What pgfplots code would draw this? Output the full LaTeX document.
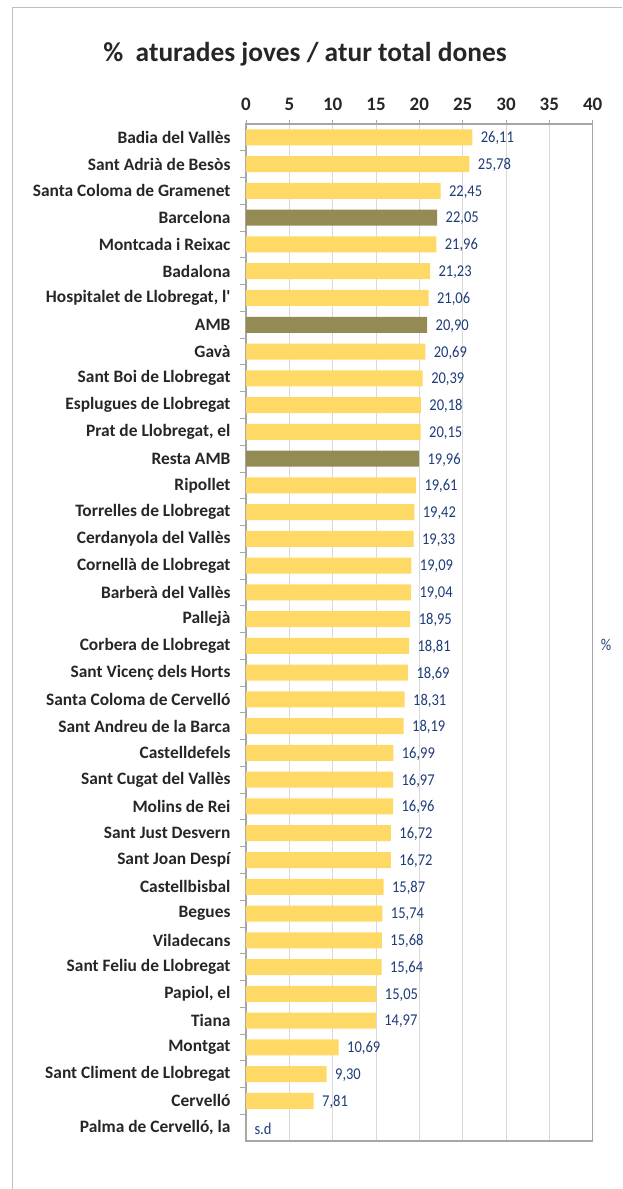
\documentclass[border=0pt]{standalone}
\usepackage{pgfplots}
\pgfplotsset{compat=1.18}
\usepackage{pgfplotstable}
\usepackage{fontspec}
\setmainfont{Carlito}
\newfontfamily\valfont[FakeStretch=0.88]{Carlito}
\definecolor{barY}{HTML}{FFD966}
\definecolor{barO}{HTML}{948A54}
\definecolor{valB}{HTML}{1F3C78}
\definecolor{txt}{HTML}{262626}
\definecolor{gridc}{HTML}{D9D9D9}
\definecolor{axc}{HTML}{A6A6A6}
\definecolor{framec}{HTML}{BFBFBF}

\pgfplotstableread{
i v lab
0 26.11 26,11
1 25.78 25,78
2 22.45 22,45
4 21.96 21,96
5 21.23 21,23
6 21.06 21,06
8 20.69 20,69
9 20.39 20,39
10 20.18 20,18
11 20.15 20,15
13 19.61 19,61
14 19.42 19,42
15 19.33 19,33
16 19.09 19,09
17 19.04 19,04
18 18.95 18,95
19 18.81 18,81
20 18.69 18,69
21 18.31 18,31
22 18.19 18,19
23 16.99 16,99
24 16.97 16,97
25 16.96 16,96
26 16.72 16,72
27 16.72 16,72
28 15.87 15,87
29 15.74 15,74
30 15.68 15,68
31 15.64 15,64
32 15.05 15,05
33 14.97 14,97
34 10.69 10,69
35 9.30 9,30
36 7.81 7,81
}\yellowtab

\pgfplotstableread{
i v lab
3 22.05 22,05
7 20.90 20,90
12 19.96 19,96
}\olivetab

\pgfplotstableread{
i v lab
37 0 s.d
}\sdtab

\begin{document}
\begin{tikzpicture}
\useasboundingbox (0,0) rectangle (622pt,1189pt);
\draw[framec, line width=1pt] (12pt,0) -- (12pt,1181pt) -- (622pt,1181pt);
\node[txt, font=\fontsize{27.4}{30}\selectfont\bfseries] at (305pt,1135pt) {\%\ \ aturades joves / atur total dones};
\node[valB, font=\valfont\fontsize{16.5}{19}\selectfont] at (606pt,544pt) {\%};
\begin{axis}[
  at={(246pt,48pt)}, anchor=south west,
  scale only axis, width=346.7pt, height=1017pt,
  xmin=0, xmax=40, ymin=-0.5, ymax=37.5,
  y dir=reverse,
  axis line style={draw=axc, line width=1.1pt},
  xtick={0,5,...,40},
  xtick pos=right, xticklabel pos=right,
  xmajorgrids, grid style={draw=gridc, line width=0.8pt},
  tick align=outside, major tick length=4pt,
  x tick style={draw=axc, line width=0.8pt},
  xticklabel style={font=\fontsize{19}{21}\selectfont\bfseries, text=txt, yshift=6pt},
  /pgf/number format/assume math mode=true,
  ytick={0,...,37},
  y tick style={draw=none},
  ytick pos=left,
  minor ytick={0.5,1.5,...,36.5},
  minor tick length=6pt,
  minor y tick style={draw=axc, line width=0.8pt},
  yticklabel style={font=\fontsize{17.4}{20}\selectfont\bfseries, text=txt, xshift=-8pt},
  yticklabels={{Badia del Vallès},{Sant Adrià de Besòs},{Santa Coloma de Gramenet},{Barcelona},{Montcada i Reixac},{Badalona},{Hospitalet de Llobregat, l\textquotesingle},{AMB},{Gavà},{Sant Boi de Llobregat},{Esplugues de Llobregat},{Prat de Llobregat, el},{Resta AMB},{Ripollet},{Torrelles de Llobregat},{Cerdanyola del Vallès},{Cornellà de Llobregat},{Barberà del Vallès},{Pallejà},{Corbera de Llobregat},{Sant Vicenç dels Horts},{Santa Coloma de Cervelló},{Sant Andreu de la Barca},{Castelldefels},{Sant Cugat del Vallès},{Molins de Rei},{Sant Just Desvern},{Sant Joan Despí},{Castellbisbal},{Begues},{Viladecans},{Sant Feliu de Llobregat},{Papiol, el},{Tiana},{Montgat},{Sant Climent de Llobregat},{Cervelló},{Palma de Cervelló, la}},
  nodes near coords style={font=\valfont\fontsize{16.5}{19}\selectfont, text=valB, anchor=west, xshift=5pt, yshift=-1pt},
]
\addplot[xbar, bar width=16pt, bar shift=0pt, fill=barY, draw=none,
  nodes near coords, point meta=explicit symbolic]
  table[x=v, y=i, meta=lab] {\yellowtab};
\addplot[xbar, bar width=16pt, bar shift=0pt, fill=barO, draw=none,
  nodes near coords, point meta=explicit symbolic]
  table[x=v, y=i, meta=lab] {\olivetab};
\addplot[xbar, bar width=16pt, bar shift=0pt, fill=barY, draw=none,
  nodes near coords, point meta=explicit symbolic]
  table[x=v, y=i, meta=lab] {\sdtab};
\end{axis}
\end{tikzpicture}
\end{document}
